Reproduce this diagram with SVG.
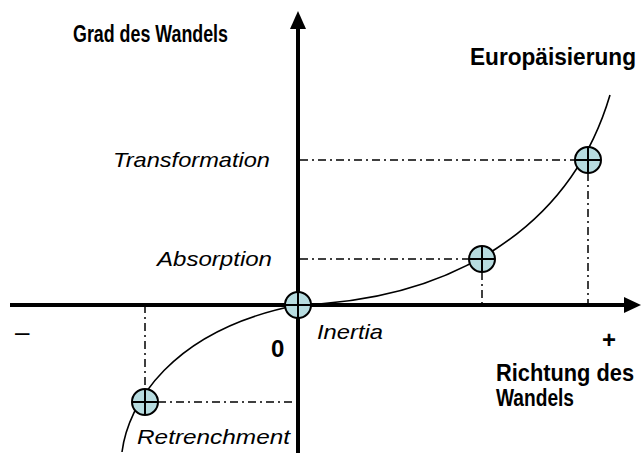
<svg xmlns="http://www.w3.org/2000/svg" width="641" height="453" viewBox="0 0 641 453">
<style>
.b{font-family:"Liberation Sans",Arial,sans-serif;font-weight:bold;font-size:23px;fill:#000}
.i{font-family:"Liberation Sans",Arial,sans-serif;font-style:italic;font-size:21px;fill:#000}
.dd{stroke:#000;stroke-width:1.5;fill:none;stroke-dasharray:8 4 2 4}
.ax{stroke:#000;stroke-width:4;fill:none}
.pt circle{fill:#b7dce0;stroke:#000;stroke-width:2}
.pt line{stroke:#000;stroke-width:2}
</style>
<rect width="641" height="453" fill="#fff"/>
<g id="connectors">
<path class="dd" d="M300 160H575M588 173V305"/>
<path class="dd" d="M300 259H469M482 272V305"/>
<path class="dd" d="M158 402H298M145 305V389"/>
<path d="M122 452C128 405 170 330 298 305" stroke="#000" stroke-width="1.6" fill="none"/>
<path d="M298 305C450 300 570 230 610 95" stroke="#000" stroke-width="1.6" fill="none"/>
<line class="ax" x1="10" y1="305" x2="626" y2="305"/>
<polygon points="641,305 624,297 624,313" fill="#000"/>
<line class="ax" x1="298" y1="453" x2="298" y2="28"/>
<polygon points="298,11 290,29 306,29" fill="#000"/>
</g>
<g id="origin" class="pt"><circle cx="298" cy="305" r="13"/><line x1="285" y1="305" x2="311" y2="305"/><line x1="298" y1="292" x2="298" y2="318"/></g>
<g id="absorption-pt" class="pt"><circle cx="482" cy="259" r="13"/><line x1="469" y1="259" x2="495" y2="259"/><line x1="482" y1="246" x2="482" y2="272"/></g>
<g id="transformation-pt" class="pt"><circle cx="588" cy="160" r="13"/><line x1="575" y1="160" x2="601" y2="160"/><line x1="588" y1="147" x2="588" y2="173"/></g>
<g id="retrenchment-pt" class="pt"><circle cx="145" cy="402" r="13"/><line x1="132" y1="402" x2="158" y2="402"/><line x1="145" y1="389" x2="145" y2="415"/></g>
<g id="labels">
<text class="b" x="73" y="42" textLength="155" lengthAdjust="spacingAndGlyphs">Grad des Wandels</text>
<text class="b" x="470" y="65" textLength="166" lengthAdjust="spacingAndGlyphs">Europäisierung</text>
<text class="i" x="113" y="167" textLength="157" lengthAdjust="spacingAndGlyphs">Transformation</text>
<text class="i" x="157" y="266" textLength="115" lengthAdjust="spacingAndGlyphs">Absorption</text>
<text class="i" x="317" y="339" textLength="66" lengthAdjust="spacingAndGlyphs">Inertia</text>
<text class="i" x="137" y="444" textLength="153" lengthAdjust="spacingAndGlyphs">Retrenchment</text>
<text class="b" x="271" y="357" style="font-size:24px">0</text>
<text class="b" x="602" y="348" style="font-size:24px">+</text>
<text x="15" y="341" style="font-family:'Liberation Sans',Arial,sans-serif;font-size:26px">–</text>
<text class="b" x="496" y="381" textLength="138" lengthAdjust="spacingAndGlyphs">Richtung des</text>
<text class="b" x="496" y="406" textLength="78" lengthAdjust="spacingAndGlyphs">Wandels</text>
</g>
</svg>
